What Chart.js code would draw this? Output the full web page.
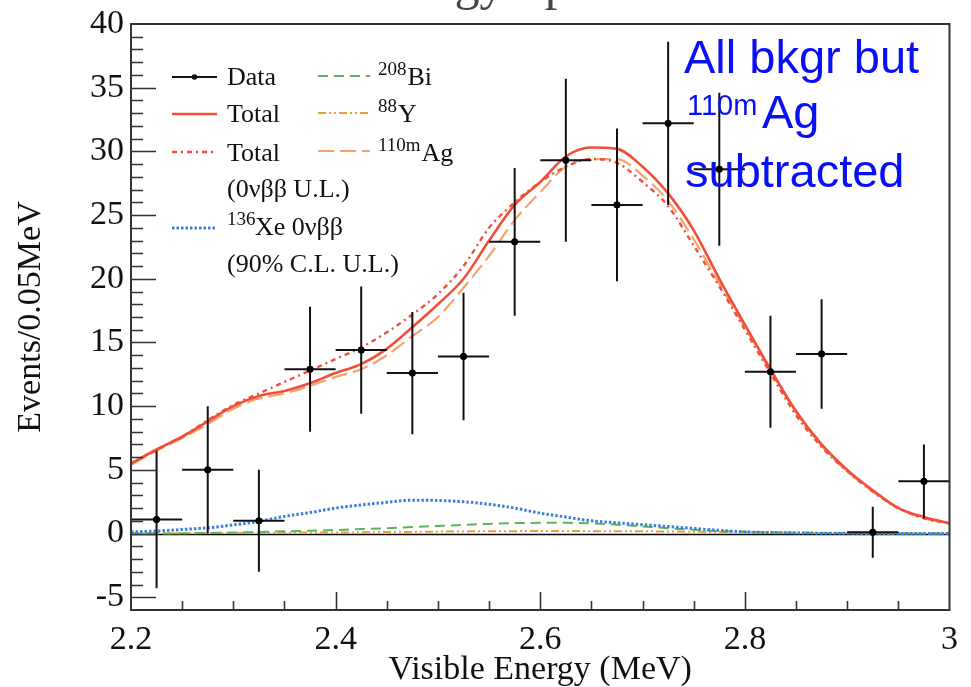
<!DOCTYPE html>
<html><head><meta charset="utf-8">
<script src="https://cdn.jsdelivr.net/npm/chart.js@4.4.1/dist/chart.umd.min.js"></script>
<style>html,body{margin:0;padding:0;background:#fff;}canvas{display:block;}</style>
</head><body>
<canvas id="c" width="971" height="687"></canvas>
<script>
// ---- data ----
const binCenters = [2.225, 2.275, 2.325, 2.375, 2.425, 2.475, 2.525, 2.575, 2.625, 2.675, 2.725, 2.775, 2.825, 2.875, 2.925, 2.975];
const dataCounts = [1.1, 5.0, 1.0, 12.9, 14.4, 12.6, 13.9, 22.9, 29.3, 25.8, 32.2, 28.6, 12.7, 14.1, 0.1, 4.1];
const dataErrors = [5.4, 5.0, 4.0, 4.9, 5.0, 4.8, 5.0, 5.8, 6.4, 6.0, 6.4, 6.0, 4.4, 4.3, 2.0, 2.9];
const binHalfWidth = 0.025;

const energyGrid = [2.2, 2.225, 2.25, 2.275, 2.3, 2.325, 2.35, 2.375, 2.4, 2.425, 2.45, 2.475, 2.5, 2.525, 2.55, 2.575, 2.6, 2.625, 2.65, 2.675, 2.7, 2.725, 2.75, 2.775, 2.8, 2.825, 2.85, 2.875, 2.9, 2.925, 2.95, 2.975, 3.0];
const totalFit = [5.5, 6.6, 7.6, 8.8, 10.0, 10.8, 11.2, 11.8, 12.6, 13.3, 14.5, 16.2, 18.0, 20.0, 23.0, 25.8, 27.6, 29.6, 30.3, 30.2, 28.8, 26.7, 23.8, 20.0, 16.4, 12.9, 9.6, 7.0, 5.0, 3.4, 2.0, 1.3, 0.8];
const totalUL = [5.5, 6.6, 7.6, 8.9, 10.1, 11.0, 11.9, 12.8, 13.7, 14.6, 15.8, 17.2, 18.8, 21.0, 24.0, 26.0, 27.6, 28.8, 29.4, 29.1, 27.6, 25.7, 22.6, 19.4, 16.0, 12.6, 9.3, 6.8, 4.9, 3.3, 2.0, 1.2, 0.8];
const ag110m = [5.4, 6.5, 7.5, 8.6, 9.8, 10.6, 11.0, 11.6, 12.3, 12.9, 14.0, 15.5, 17.0, 19.3, 21.8, 24.6, 26.8, 28.8, 29.4, 29.4, 28.1, 26.1, 23.1, 19.6, 16.2, 12.8, 9.5, 6.9, 4.9, 3.3, 2.0, 1.2, 0.8];
const xe136 = [0.13, 0.2, 0.32, 0.45, 0.68, 0.95, 1.35, 1.65, 2.0, 2.25, 2.45, 2.62, 2.6, 2.5, 2.3, 2.0, 1.6, 1.3, 1.0, 0.85, 0.7, 0.55, 0.4, 0.25, 0.13, 0.08, 0.05, 0.03, 0.02, 0.01, 0.01, 0.01, 0.01];
const bi208 = [0.0, 0.0, 0.02, 0.04, 0.08, 0.12, 0.18, 0.22, 0.28, 0.35, 0.42, 0.52, 0.6, 0.68, 0.76, 0.82, 0.84, 0.84, 0.8, 0.7, 0.56, 0.42, 0.3, 0.2, 0.14, 0.1, 0.07, 0.05, 0.03, 0.02, 0.01, 0.0, 0.0];
const y88 = [0.02, 0.03, 0.03, 0.04, 0.05, 0.06, 0.07, 0.08, 0.08, 0.1, 0.12, 0.13, 0.15, 0.17, 0.18, 0.19, 0.2, 0.2, 0.19, 0.18, 0.18, 0.16, 0.14, 0.12, 0.1, 0.08, 0.06, 0.05, 0.04, 0.03, 0.03, 0.02, 0.02];

const yTickValues = [-5, 0, 5, 10, 15, 20, 25, 30, 35, 40];
const xTickLabels = ['2.2', '2.4', '2.6', '2.8', '3'];

// ---- styles ----
const SERIF = '"Liberation Serif", "Times New Roman", serif';
const SANS = '"Liberation Sans", Arial, sans-serif';
const C_RED = '#f0503a', C_AG = '#f5a36c', C_BLUE = '#3f7fdc', C_GREEN = '#5bb55b', C_Y = '#e8a234';

const pts = arr => energyGrid.map((x, i) => ({x, y: arr[i]}));
const errV = [], errH = [];
binCenters.forEach((x, i) => {
  const y = dataCounts[i], e = dataErrors[i];
  errV.push({x, y: y - e}, {x, y: y + e}, {x, y: null});
  errH.push({x: x - binHalfWidth, y}, {x: x + binHalfWidth, y}, {x: x + binHalfWidth, y: null});
});

const curve = (label, arr, color, width, dash, order) => ({
  label, data: pts(arr), showLine: true, borderColor: color, borderWidth: width,
  borderDash: dash, pointRadius: 0, cubicInterpolationMode: 'monotone', order, fill: false
});

const dsData = {label: 'Data', data: binCenters.map((x, i) => ({x, y: dataCounts[i]})),
  pointRadius: 3.2, pointBackgroundColor: '#000', pointBorderColor: '#000', showLine: false, order: 0};
const dsErrV = {label: 'errV', data: errV, showLine: true, spanGaps: false, borderColor: '#111', borderWidth: 2, pointRadius: 0, order: 1};
const dsErrH = {label: 'errH', data: errH, showLine: true, spanGaps: false, borderColor: '#111', borderWidth: 2, pointRadius: 0, order: 1};
const dsTotal = curve('Total', totalFit, C_RED, 2.6, [], 2);
const dsTotalUL = curve('Total UL', totalUL, C_RED, 2.4, [5, 4, 2, 4], 3);
const dsAg = curve('110mAg', ag110m, C_AG, 2.2, [16, 6], 4);
const dsXe = curve('136Xe', xe136, C_BLUE, 3, [2.5, 2], 5);
const dsBi = curve('208Bi', bi208, C_GREEN, 2, [10, 6], 6);
const dsY = curve('88Y', y88, C_Y, 2, [8, 3, 2, 3, 2, 3], 7);

const frame = {
  id: 'frame',
  beforeDatasetsDraw(chart) {
    const {ctx, chartArea: a, scales: {y}} = chart;
    ctx.save();
    ctx.strokeStyle = '#000'; ctx.lineWidth = 1.5;
    const y0 = Math.round(y.getPixelForValue(0)) + 0.5;
    ctx.beginPath(); ctx.moveTo(a.left, y0); ctx.lineTo(a.right, y0); ctx.stroke();
    ctx.restore();
  },
  afterDraw(chart) {
    const {ctx, chartArea: a, scales: {x, y}} = chart;
    ctx.save();
    ctx.strokeStyle = '#333'; ctx.lineWidth = 2;
    ctx.strokeRect(a.left, a.top, a.right - a.left, a.bottom - a.top);
    ctx.lineWidth = 1.6;
    ctx.beginPath();
    for (let v = -6; v <= 40; v++) {
      const py = Math.round(y.getPixelForValue(v)) + 0.5;
      const len = (v % 5 === 0) ? 25 : 12;
      if (v === -6 || v === 40) continue;
      ctx.moveTo(a.left, py); ctx.lineTo(a.left + len, py);
    }
    for (let k = 1; k < 16; k++) {
      const v = 2.2 + k * 0.05;
      const px = Math.round(x.getPixelForValue(v)) + 0.5;
      const len = (k % 4 === 0) ? 18 : 9;
      ctx.moveTo(px, a.bottom); ctx.lineTo(px, a.bottom - len);
    }
    ctx.stroke();

    // partially visible title at the top edge
    ctx.fillStyle = '#444';
    ctx.font = '50px ' + SERIF;
    ctx.textBaseline = 'alphabetic';
    ctx.fillText('Energy Spectrum', 361, -1);

    // legend
    const sample = (ds, x1, x2, yy) => {
      ctx.save();
      ctx.strokeStyle = ds.borderColor; ctx.lineWidth = ds.borderWidth;
      ctx.setLineDash(ds.borderDash || []);
      ctx.beginPath(); ctx.moveTo(x1, yy); ctx.lineTo(x2, yy); ctx.stroke();
      ctx.restore();
    };
    ctx.fillStyle = '#111';
    ctx.strokeStyle = '#111';
    // Data
    ctx.save(); ctx.lineWidth = 2; ctx.beginPath(); ctx.moveTo(172, 77); ctx.lineTo(217, 77); ctx.stroke();
    ctx.beginPath(); ctx.arc(194.5, 77, 2.8, 0, Math.PI * 2); ctx.fill(); ctx.restore();
    sample(dsTotal, 172, 217, 114);
    sample(dsTotalUL, 172, 217, 152);
    sample(dsXe, 172, 217, 228);
    sample(dsBi, 318, 370, 76);
    sample(dsY, 318, 370, 113);
    sample(dsAg, 318, 370, 151);

    const big = '26px ' + SERIF, sup = '19px ' + SERIF;
    ctx.font = big;
    ctx.fillText('Data', 227, 85);
    ctx.fillText('Total', 227, 122);
    ctx.fillText('Total', 227, 161);
    ctx.fillText('(0\u03bd\u03b2\u03b2 U.L.)', 227, 197);
    ctx.font = sup; ctx.fillText('136', 227, 225);
    ctx.font = big; ctx.fillText('Xe 0\u03bd\u03b2\u03b2', 255, 235);
    ctx.fillText('(90% C.L. U.L.)', 227, 272);
    const supLabel = (s, m, xx, yy) => {
      ctx.font = sup; ctx.fillText(s, xx, yy - 10);
      const w = ctx.measureText(s).width;
      ctx.font = big; ctx.fillText(m, xx + w + 1, yy);
    };
    supLabel('208', 'Bi', 378, 85);
    supLabel('88', 'Y', 378, 122);
    supLabel('110m', 'Ag', 378, 161);

    // annotation
    ctx.fillStyle = '#0a10f5';
    ctx.font = '47px ' + SANS;
    ctx.fillText('All bkgr but', 684, 73);
    ctx.font = '29px ' + SANS;
    ctx.fillText('110m', 687, 115);
    ctx.font = '47px ' + SANS;
    ctx.fillText('Ag', 762, 128);
    ctx.fillText('subtracted', 685, 187);
    ctx.restore();
  }
};

new Chart(document.getElementById('c'), {
  type: 'scatter',
  data: {datasets: [dsData, dsErrV, dsErrH, dsTotal, dsTotalUL, dsAg, dsXe, dsBi, dsY]},
  options: {
    responsive: false, animation: false, devicePixelRatio: 1,
    layout: {padding: {top: 18, right: 16, left: 0, bottom: 0}},
    plugins: {legend: {display: false}, tooltip: {enabled: false}},
    scales: {
      x: {
        type: 'linear', min: 2.2, max: 3.0,
        grid: {display: false, drawTicks: false},
        border: {display: false},
        afterBuildTicks: s => { s.ticks = xTickLabels.map(t => ({value: parseFloat(t)})); },
        ticks: {callback: (v) => xTickLabels.find(t => Math.abs(parseFloat(t) - v) < 1e-6) || '',
          font: {family: SERIF, size: 34, lineHeight: 1}, color: '#111', padding: 13, maxRotation: 0, autoSkip: false},
        title: {display: true, text: 'Visible Energy (MeV)', font: {family: SERIF, size: 34, lineHeight: 1}, color: '#111', padding: {top: 8, bottom: 0}},
        afterFit: s => { s.height = 77; }
      },
      y: {
        type: 'linear', min: -6, max: 40,
        grid: {display: false, drawTicks: false},
        border: {display: false},
        afterBuildTicks: s => { s.ticks = yTickValues.map(v => ({value: v})); },
        ticks: {font: {family: SERIF, size: 34, lineHeight: 1}, color: '#111', padding: 7, autoSkip: false,
          callback: v => String(v)},
        title: {display: true, text: 'Events/0.05MeV', font: {family: SERIF, size: 34, lineHeight: 1}, color: '#111', padding: {top: 14, bottom: 0}},
        afterFit: s => { s.width = 131; }
      }
    }
  },
  plugins: [frame]
});
</script>
</body></html>
